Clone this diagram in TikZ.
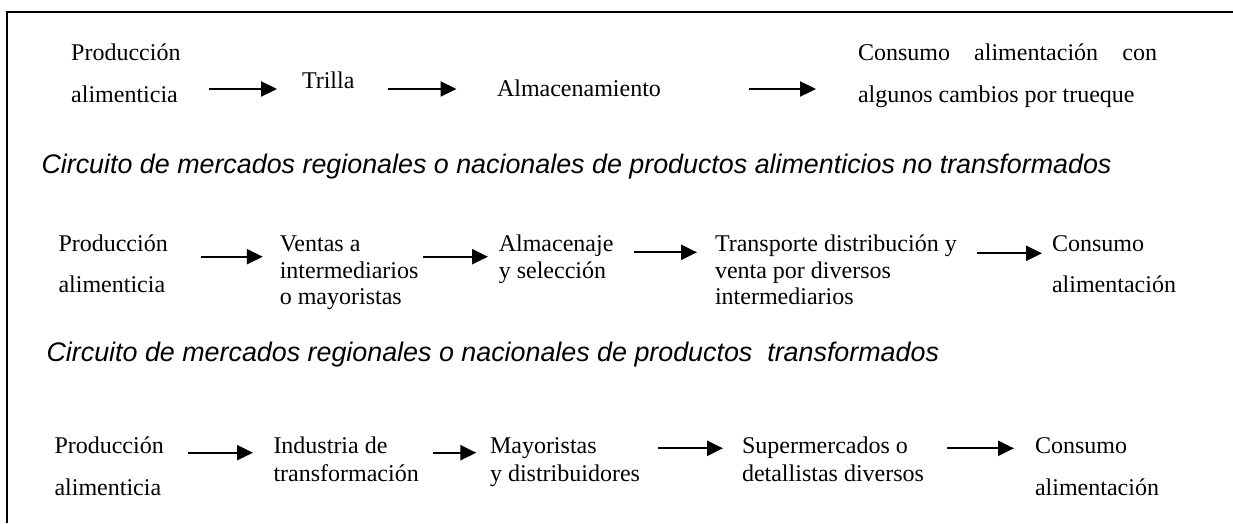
\documentclass[tikz,border=0pt]{standalone}
\usepackage{fontspec}
\setmainfont{Liberation Serif}
\newfontfamily\headfont{Liberation Sans}
\usetikzlibrary{arrows.meta}
\tikzset{
  lbl/.style={inner sep=0pt, outer sep=0pt, anchor=base west, align=left},
  tx/.style={lbl, font=\fontsize{24}{#1}\selectfont},
  head/.style={inner sep=0pt, outer sep=0pt, anchor=base west, font=\headfont\itshape\fontsize{26.85}{30}\selectfont},
  arr/.style={line width=2.3pt, -{Triangle[length=16pt,width=15pt]}},
  frame/.style={line width=1.8pt}
}
\begin{document}
\begin{tikzpicture}[x=1pt,y=-1pt]
\useasboundingbox (0,0) rectangle (1233,523);
\draw[frame] (7,523) -- (7,12) -- (1233,12);

% Row 1 (base anchor = last line baseline)
\node[tx=42] (a1) at (71.2,102) {Producción\\alimenticia};
\node[tx=28] (a2) at (302,88) {Trilla};
\node[tx=28] (a3) at (497,96) {Almacenamiento};
\node[tx=42] (a4) at (858,102) {\makebox[299pt][s]{Consumo alimentación con}\\algunos cambios por trueque};
\draw[arr, shorten <=28pt, shorten >=25pt] (a1.east |- 0,89) -- (a2.west |- 0,89);
\draw[arr, shorten <=33.7pt, shorten >=40.5pt] (a2.east |- 0,89) -- (a3.west |- 0,89);
\draw[arr, shorten <=88pt, shorten >=42pt] (a3.east |- 0,89) -- (a4.west |- 0,89);

% Heading 1
\node[head] (h1) at (41.5,173) {Circuito de mercados regionales o nacionales de productos alimenticios no transformados};

% Row 2
\node[tx=41] (b1) at (58.5,292.7) {Producción\\alimenticia};
\node[tx=26.5] (b2) at (279.8,304.7) {Ventas a\\intermediarios\\o mayoristas};
\node[tx=26.6] (b3) at (498.8,278.3) {Almacenaje\\y selección};
\node[tx=26.6] (b4) at (715,304.9) {Transporte distribución y\\venta por diversos\\intermediarios};
\node[tx=41] (b5) at (1052,292.7) {Consumo\\alimentación};
\draw[arr, shorten <=33pt, shorten >=17pt] (b1.east |- 0,256.7) -- (b2.west |- 0,256.7);
\draw[arr, shorten <=4.6pt, shorten >=10.8pt] (b2.east |- 0,256.7) -- (b3.west |- 0,256.7);
\draw[arr, shorten <=21pt, shorten >=18pt] (b3.east |- 0,252.3) -- (b4.west |- 0,252.3);
\draw[arr, shorten <=20pt, shorten >=10pt] (b4.east |- 0,253.3) -- (b5.west |- 0,253.3);

% Heading 2
\node[head] (h2) at (46.6,361.7) {Circuito de mercados regionales o nacionales de productos\ \ transformados};

% Row 3
\node[tx=41.7] (c1) at (54.5,495) {Producción\\alimenticia};
\node[tx=28.4] (c2) at (273.5,481.7) {Industria de\\transformación};
\node[tx=28.4] (c3) at (490,481.7) {Mayoristas\\y distribuidores};
\node[tx=28.4] (c4) at (742,481.7) {Supermercados o\\detallistas diversos};
\node[tx=41.7] (c5) at (1035,495) {Consumo\\alimentación};
\draw[arr, shorten <=24pt, shorten >=20.5pt] (c1.east |- 0,452.7) -- (c2.west |- 0,452.7);
\draw[arr, shorten <=14pt, shorten >=13.7pt] (c2.east |- 0,452.7) -- (c3.west |- 0,452.7);
\draw[arr, shorten <=18.5pt, shorten >=19pt] (c3.east |- 0,448.3) -- (c4.west |- 0,448.3);
\draw[arr, shorten <=23pt, shorten >=21pt] (c4.east |- 0,448.3) -- (c5.west |- 0,448.3);
\end{tikzpicture}
\end{document}
